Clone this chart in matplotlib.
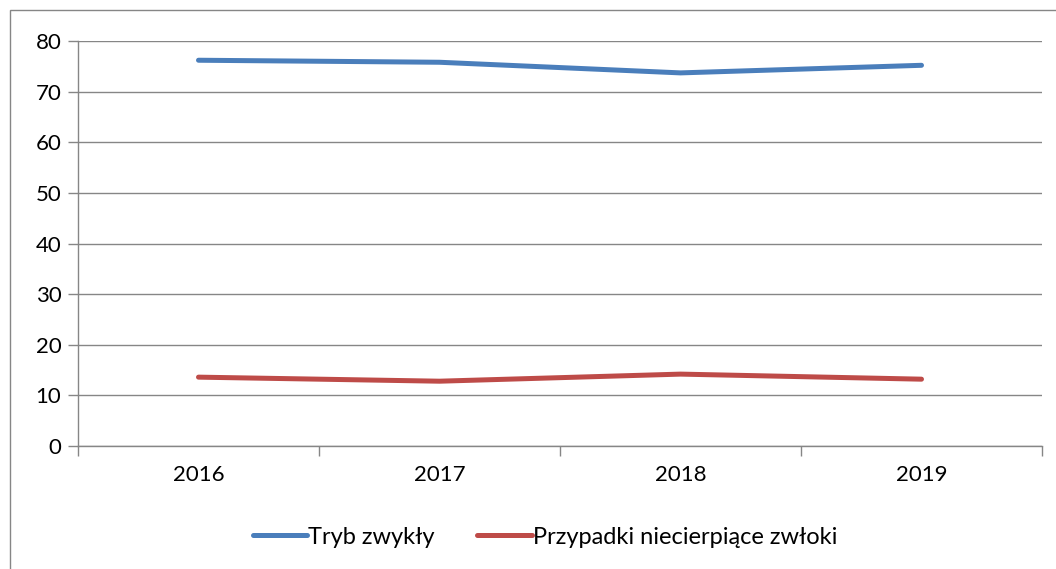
import matplotlib.pyplot as plt
from matplotlib.patches import Rectangle

years = ["2016", "2017", "2018", "2019"]
tryb_zwykly = [76.2, 75.8, 73.7, 75.2]
niecierpiace = [13.6, 12.8, 14.2, 13.2]

plt.rcParams['font.family'] = ['Lato', 'DejaVu Sans']

fig = plt.figure(figsize=(10.56, 5.69), dpi=100)
W, H = 1056, 569
ax = fig.add_axes([78 / W, 1 - 446 / H, (1042 - 78) / W, (446 - 41) / H])

x = range(len(years))
ax.plot(x, tryb_zwykly, color='#4A7EBB', linewidth=3.6, solid_capstyle='round', label='Tryb zwykły')
ax.plot(x, niecierpiace, color='#BE4B48', linewidth=3.6, solid_capstyle='round', label='Przypadki niecierpiące zwłoki')

ax.set_xlim(-0.5, len(years) - 0.5)
ax.set_ylim(0, 80)
ax.set_yticks(range(0, 81, 10))
ax.set_xticks([i - 0.5 for i in range(len(years) + 1)])
ax.set_xticklabels([])
ax.set_xticks(list(x), minor=True)
ax.set_xticklabels(years, minor=True)
ax.tick_params(axis='x', which='minor', length=0, pad=14, labelsize=16)
ax.tick_params(axis='x', which='major', length=7, color='#868686', width=1)
ax.tick_params(axis='y', length=7, color='#868686', width=1, labelsize=16, pad=5)

ax.grid(axis='y', color='#868686', linewidth=1)
ax.set_axisbelow(True)
for s in ['top', 'right']:
    ax.spines[s].set_visible(False)
for s in ['left', 'bottom']:
    ax.spines[s].set_color('#868686')
    ax.spines[s].set_linewidth(1)

fig.legend(loc='center', bbox_to_anchor=(545 / W, 1 - 537 / H), ncol=2, frameon=False,
           fontsize=17, handlelength=2.3, handletextpad=0.05, columnspacing=1.8)

fig.patches.append(Rectangle((10 / W, -0.01), 1.05, 1 - 10 / H + 0.01, transform=fig.transFigure,
                             fill=False, edgecolor='#868686', linewidth=1))

fig.savefig('out.png', dpi=100)
